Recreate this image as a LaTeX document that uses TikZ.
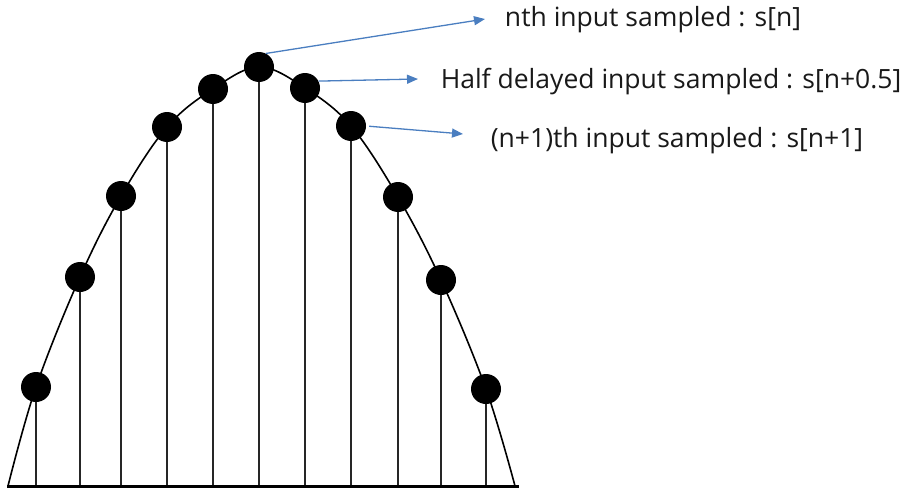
\documentclass[tikz,border=0pt]{standalone}
\usepackage{fontspec}
\setmainfont{Open Sans}
\usetikzlibrary{arrows.meta}
\definecolor{callout}{HTML}{4A7EC0}
\tikzset{
  sample/.style={circle, fill=black, inner sep=0pt, minimum size=30pt},
  stem/.style={line width=1.4pt, black!85},
  envelope/.style={line width=1.6pt, black},
  axisline/.style={line width=3pt, black},
  pointer/.style={line width=1.3pt, callout, -{Triangle[length=11pt,width=9pt]}},
  caption/.style={inner sep=0pt, font=\fontsize{26.5}{30}\selectfont, text=black!90}
}
\begin{document}
\begin{tikzpicture}[x=1pt, y=-1pt]
\useasboundingbox (0,0) rectangle (907,487);

% baseline
\coordinate (bl) at (7,486);
\coordinate (br) at (519,486);

% sample positions on the envelope
\coordinate (p1) at (36,387);
\coordinate (p2) at (80,277);
\coordinate (p3) at (121,196);
\coordinate (p4) at (167,127);
\coordinate (p5) at (213,89);
\coordinate (p6) at (259,67);
\coordinate (p7) at (305,88);
\coordinate (p8) at (351,126);
\coordinate (p9) at (398,197);
\coordinate (p10) at (441,280);
\coordinate (p11) at (486,389);

% envelope curve
\draw[envelope] plot[smooth, tension=0.6] coordinates {
  (8,486) (36,387) (80,277) (121,196) (167,127) (213,89) (259,67)
  (305,88) (351,126) (398,197) (441,280) (486,389) (515,486)};

% stems
\foreach \i in {1,...,11}
  \draw[stem] (p\i) -- (p\i |- bl);

\draw[axisline] (bl) -- (br);

% sample dots
\foreach \i in {1,...,11}
  \node[sample] (d\i) at (p\i) {};

% captions
\node[caption] (t1) at (653,20) {nth input sampled : s[n]};
\node[caption] (t2) at (671,82) {Half delayed input sampled : s[n+0.5]};
\node[caption] (t3) at (677,141) {(n+1)th input sampled : s[n+1]};

% pointer tips
\coordinate (a1) at (485,19);
\coordinate (a2) at (418,79);
\coordinate (a3) at (463,134);

\draw[pointer] (d6.63) -- (a1);
\draw[pointer] (d7.27) -- (a2);
\draw[pointer, shorten <=3pt] (d8.east) -- (a3);
\end{tikzpicture}
\end{document}
